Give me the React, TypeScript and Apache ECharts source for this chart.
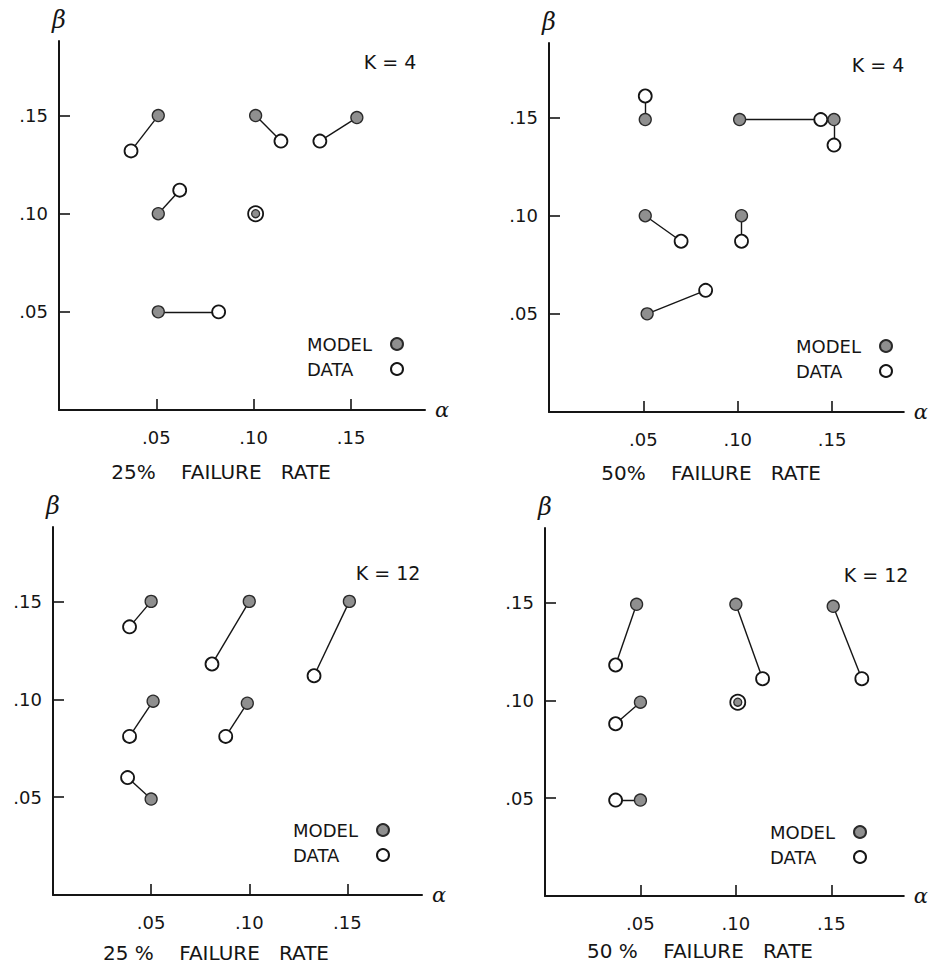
import React, { useEffect, useRef } from "react";
import * as echarts from "echarts";

// Panel 1: K = 4, 25% failure rate
const modelK4F25: number[][] = [[0.051, 0.150], [0.101, 0.150], [0.153, 0.149], [0.051, 0.100], [0.101, 0.100], [0.051, 0.050]];
const dataK4F25: number[][] = [[0.037, 0.132], [0.114, 0.137], [0.134, 0.137], [0.062, 0.112], [0.101, 0.100], [0.082, 0.050]];
// Panel 2: K = 4, 50% failure rate
const modelK4F50: number[][] = [[0.051, 0.149], [0.101, 0.149], [0.151, 0.149], [0.051, 0.100], [0.102, 0.100], [0.052, 0.050]];
const dataK4F50: number[][] = [[0.051, 0.161], [0.144, 0.149], [0.151, 0.136], [0.070, 0.087], [0.102, 0.087], [0.083, 0.062]];
// Panel 3: K = 12, 25% failure rate
const modelK12F25: number[][] = [[0.050, 0.150], [0.100, 0.150], [0.151, 0.150], [0.051, 0.099], [0.099, 0.098], [0.050, 0.049]];
const dataK12F25: number[][] = [[0.039, 0.137], [0.081, 0.118], [0.133, 0.112], [0.039, 0.081], [0.088, 0.081], [0.038, 0.060]];
// Panel 4: K = 12, 50% failure rate
const modelK12F50: number[][] = [[0.048, 0.149], [0.100, 0.149], [0.151, 0.148], [0.050, 0.099], [0.101, 0.099], [0.050, 0.049]];
const dataK12F50: number[][] = [[0.037, 0.118], [0.114, 0.111], [0.166, 0.111], [0.037, 0.088], [0.101, 0.099], [0.037, 0.049]];

const tickValues: number[] = [0.05, 0.1, 0.15];
const panelK: string[] = ["K = 4", "K = 4", "K = 12", "K = 12"];
const panelRate: string[] = ["25%    FAILURE   RATE", "50%    FAILURE   RATE", "25 %    FAILURE   RATE", "50 %    FAILURE   RATE"];
const legendNames: string[] = ["MODEL", "DATA"];

const AXIS_MAX = 0.188;
const INK = "#151515";
const FONT = "DejaVu Sans";

const panels = [
  { model: modelK4F25, data: dataK4F25, grid: { left: 59, top: 41, width: 366, height: 369 }, k: [390, 62], rate: [221, 472], legend: [307, 335] },
  { model: modelK4F50, data: dataK4F50, grid: { left: 549, top: 43, width: 362, height: 369 }, k: [878, 65], rate: [711, 473], legend: [796, 337] },
  { model: modelK12F25, data: dataK12F25, grid: { left: 53, top: 527, width: 369, height: 368 }, k: [388, 573], rate: [216, 953], legend: [293, 821] },
  { model: modelK12F50, data: dataK12F50, grid: { left: 545, top: 528, width: 363, height: 368 }, k: [876, 575], rate: [700, 951], legend: [770, 823] },
];

const fmt = (v: number) => {
  const s = v.toFixed(2);
  return s.startsWith("0") ? s.slice(1) : s;
};

export default function App() {
  const ref = useRef<HTMLDivElement>(null);
  useEffect(() => {
    if (!ref.current) return;
    const chart = echarts.init(ref.current, null, { renderer: "svg" });
    const grids: any[] = [];
    const xAxes: any[] = [];
    const yAxes: any[] = [];
    const series: any[] = [];
    const legends: any[] = [];
    const graphics: any[] = [];

    panels.forEach((p, i) => {
      grids.push({ ...p.grid, containLabel: false });
      const axisCommon = {
        type: "value",
        gridIndex: i,
        min: 0,
        max: AXIS_MAX,
        splitLine: { show: false },
        axisLine: { show: true, lineStyle: { color: INK, width: 2 } },
        axisTick: { show: true, inside: true, length: 11, customValues: tickValues, lineStyle: { color: INK, width: 1.6 } },
        nameTextStyle: { fontFamily: "DejaVu Serif", fontStyle: "italic", color: INK },
      };
      xAxes.push({
        ...axisCommon,
        name: "α",
        nameLocation: "end",
        nameGap: 10,
        nameTextStyle: { ...axisCommon.nameTextStyle, fontSize: 21, verticalAlign: "middle" },
        axisLabel: { show: true, customValues: tickValues, formatter: fmt, margin: 18, fontSize: 18, color: INK, fontFamily: FONT },
      });
      yAxes.push({
        ...axisCommon,
        name: "β",
        nameLocation: "end",
        nameGap: 9,
        nameTextStyle: { ...axisCommon.nameTextStyle, fontSize: 24, align: "center" },
        axisLabel: { show: true, customValues: tickValues, formatter: fmt, margin: 11, fontSize: 18, color: INK, fontFamily: FONT },
      });

      const same = (j: number) => p.model[j][0] === p.data[j][0] && p.model[j][1] === p.data[j][1];

      series.push({
        type: "lines",
        name: "link",
        coordinateSystem: "cartesian2d",
        xAxisIndex: i,
        yAxisIndex: i,
        polyline: false,
        silent: true,
        z: 1,
        lineStyle: { color: INK, width: 1.4, opacity: 1 },
        data: p.model.map((m, j) => ({ coords: [m, p.data[j]] })),
      });
      series.push({
        type: "scatter",
        name: "DATA",
        xAxisIndex: i,
        yAxisIndex: i,
        symbol: "circle",
        z: 2,
        symbolSize: (_v: any, params: any) => (same(params.dataIndex) ? 15 : 13),
        itemStyle: { color: "#ffffff", borderColor: INK, borderWidth: 1.8, opacity: 1 },
        data: p.data,
      });
      series.push({
        type: "scatter",
        name: "MODEL",
        xAxisIndex: i,
        yAxisIndex: i,
        symbol: "circle",
        z: 3,
        symbolSize: (_v: any, params: any) => (same(params.dataIndex) ? 8 : 12),
        itemStyle: { color: "#8f8f8f", borderColor: "#2a2a2a", borderWidth: 1.3, opacity: 1 },
        data: p.model,
      });

      legends.push({
        data: legendNames,
        orient: "vertical",
        align: "right",
        left: p.legend[0],
        top: p.legend[1],
        padding: 0,
        itemWidth: 12,
        itemHeight: 12,
        itemGap: 7,
        selectedMode: false,
        formatter: (name: string) => `{n|${name}}`,
        textStyle: {
          color: INK,
          fontFamily: FONT,
          fontSize: 18,
          rich: { n: { width: 79, align: "left", fontSize: 18, fontFamily: FONT, color: INK } },
        },
      });

      graphics.push({
        type: "text",
        x: p.k[0],
        y: p.k[1],
        style: { text: panelK[i], fontSize: 19, fontFamily: FONT, fill: INK, textAlign: "center", textVerticalAlign: "middle" },
      });
      graphics.push({
        type: "text",
        x: p.rate[0],
        y: p.rate[1],
        style: { text: panelRate[i], fontSize: 20, fontFamily: FONT, fill: INK, textAlign: "center", textVerticalAlign: "middle" },
      });
    });

    chart.setOption({
      animation: false,
      backgroundColor: "#ffffff",
      grid: grids,
      xAxis: xAxes,
      yAxis: yAxes,
      legend: legends,
      series,
      graphic: graphics,
    });
    return () => chart.dispose();
  }, []);

  return (
    <div
      ref={ref}
      style={{ position: "absolute", left: 0, top: 0, width: 929, height: 966, overflow: "hidden" }}
    />
  );
}
